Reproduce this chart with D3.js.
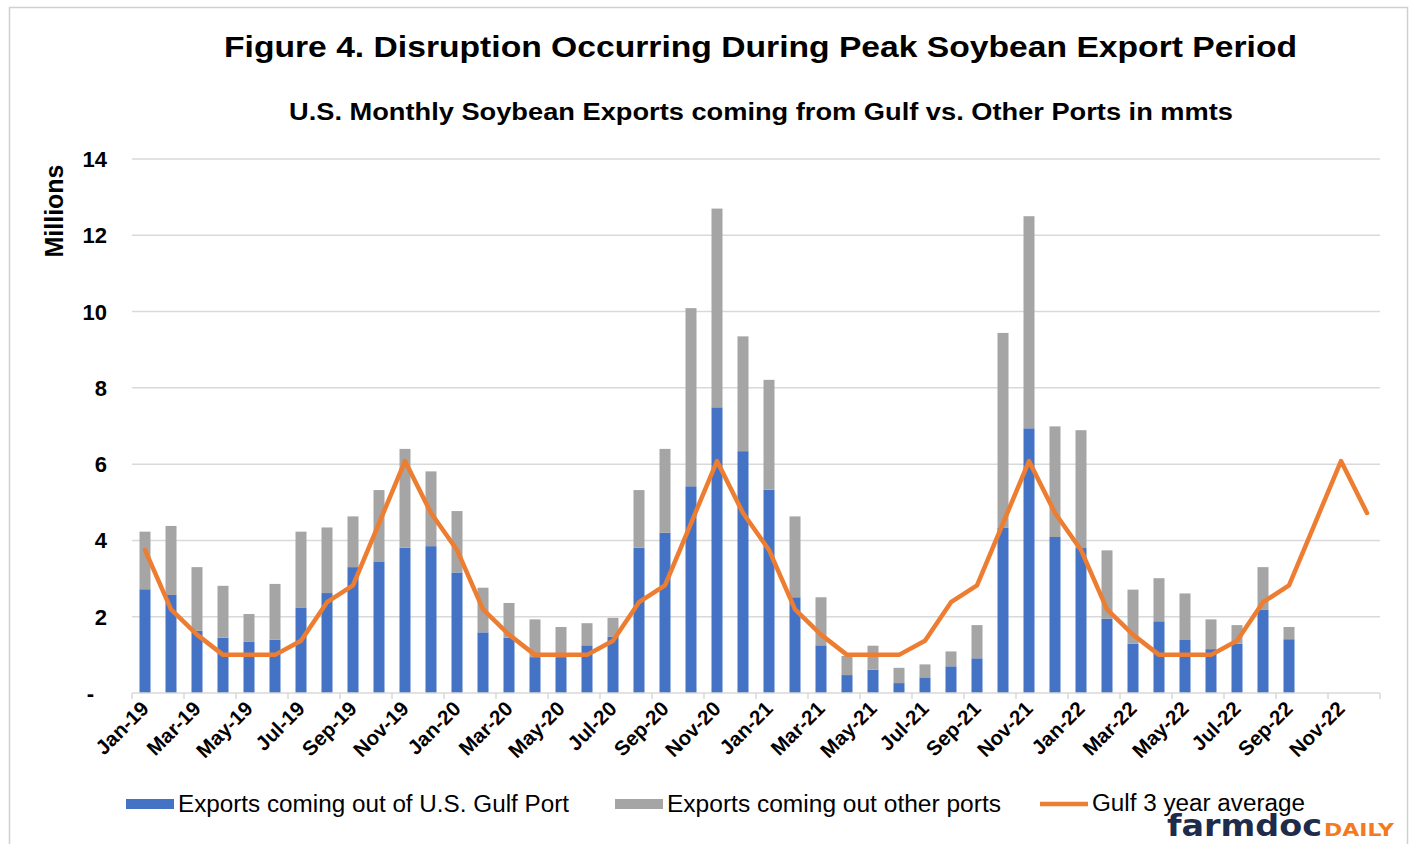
<!DOCTYPE html>
<html>
<head>
<meta charset="utf-8">
<script src="https://cdn.jsdelivr.net/npm/d3@7"></script>
<style>
  html, body { margin: 0; padding: 0; background: #ffffff; }
  svg { display: block; }
  text { font-family: "Liberation Sans", Arial, sans-serif; }
</style>
</head>
<body>
<svg id="chart" width="1416" height="844"></svg>
<script>
// Monthly categories, Jan-2019 through Dec-2022
const months = [
  "Jan-19","Feb-19","Mar-19","Apr-19","May-19","Jun-19","Jul-19","Aug-19","Sep-19","Oct-19","Nov-19","Dec-19",
  "Jan-20","Feb-20","Mar-20","Apr-20","May-20","Jun-20","Jul-20","Aug-20","Sep-20","Oct-20","Nov-20","Dec-20",
  "Jan-21","Feb-21","Mar-21","Apr-21","May-21","Jun-21","Jul-21","Aug-21","Sep-21","Oct-21","Nov-21","Dec-21",
  "Jan-22","Feb-22","Mar-22","Apr-22","May-22","Jun-22","Jul-22","Aug-22","Sep-22","Oct-22","Nov-22","Dec-22"
];

// Exports from U.S. Gulf ports (millions of metric tons)
const gulfExports = [
  2.72, 2.57, 1.63, 1.45, 1.34, 1.40, 2.23, 2.62, 3.30, 3.45, 3.81, 3.85,
  3.16, 1.59, 1.45, 0.94, 0.94, 1.25, 1.48, 3.81, 4.20, 5.42, 7.49, 6.34,
  5.33, 2.51, 1.25, 0.47, 0.61, 0.26, 0.41, 0.70, 0.91, 4.34, 6.94, 4.09,
  3.80, 1.95, 1.29, 1.88, 1.39, 1.15, 1.29, 2.19, 1.41, null, null, null
];

// Exports from all other ports (stacked on top of Gulf)
const otherExports = [
  1.51, 1.81, 1.67, 1.36, 0.73, 1.46, 2.00, 1.72, 1.33, 1.87, 2.59, 1.96,
  1.61, 1.17, 0.91, 0.99, 0.79, 0.58, 0.49, 1.51, 2.20, 4.67, 5.21, 3.01,
  2.88, 2.12, 1.26, 0.50, 0.63, 0.40, 0.34, 0.39, 0.87, 5.10, 5.56, 2.90,
  3.09, 1.79, 1.42, 1.13, 1.22, 0.78, 0.49, 1.11, 0.32, null, null, null
];

// Gulf 3-year monthly average
const gulfAverage = [
  3.75, 2.19, 1.53, 1.00, 1.00, 1.00, 1.37, 2.38, 2.82, 4.45, 6.08, 4.72,
  3.75, 2.19, 1.53, 1.00, 1.00, 1.00, 1.37, 2.38, 2.82, 4.45, 6.08, 4.72,
  3.75, 2.19, 1.53, 1.00, 1.00, 1.00, 1.37, 2.38, 2.82, 4.45, 6.08, 4.72,
  3.75, 2.19, 1.53, 1.00, 1.00, 1.00, 1.37, 2.38, 2.82, 4.45, 6.08, 4.72
];

const yTicks = [0, 2, 4, 6, 8, 10, 12, 14];
const yTickLabels = ["-", "2", "4", "6", "8", "10", "12", "14"];

const titleText = "Figure 4. Disruption Occurring During Peak Soybean Export Period";
const subtitleText = "U.S. Monthly Soybean Exports coming from Gulf vs. Other Ports in mmts";
const yAxisTitle = "Millions";
const seriesNames = ["Exports coming out of U.S. Gulf Port", "Exports coming out other ports", "Gulf 3 year average"];

const COLORS = { gulf: "#4472C4", other: "#A5A5A5", avg: "#ED7D31", grid: "#D9D9D9", text: "#000000" };

const svg = d3.select("#chart");

// outer chart frame
svg.append("rect")
  .attr("x", 9.5).attr("y", 7.5)
  .attr("width", 1398).attr("height", 860)
  .attr("fill", "#ffffff")
  .attr("stroke", "#D0D0D0").attr("stroke-width", 1.5);

const plot = { left: 132, right: 1380, top: 159, bottom: 693 };

const x = d3.scaleBand()
  .domain(d3.range(months.length))
  .range([plot.left, plot.right])
  .padding(0);

const y = d3.scaleLinear().domain([0, 14]).range([plot.bottom, plot.top]);

// titles
svg.append("text")
  .attr("x", 224).attr("y", 57)
  .attr("textLength", 1073).attr("lengthAdjust", "spacingAndGlyphs")
  .style("font-size", "30px").style("font-weight", "bold")
  .text(titleText);

svg.append("text")
  .attr("x", 289).attr("y", 120)
  .attr("textLength", 944).attr("lengthAdjust", "spacingAndGlyphs")
  .style("font-size", "23px").style("font-weight", "bold")
  .text(subtitleText);

// horizontal gridlines
svg.append("g").selectAll("line")
  .data(yTicks.filter(d => d > 0))
  .join("line")
  .attr("x1", plot.left).attr("x2", plot.right)
  .attr("y1", d => y(d)).attr("y2", d => y(d))
  .attr("stroke", COLORS.grid).attr("stroke-width", 1.5);

// y tick labels
svg.append("g").selectAll("text")
  .data(yTicks)
  .join("text")
  .attr("x", d => d === 0 ? 94 : 107)
  .attr("y", d => y(d) + 8)
  .attr("text-anchor", "end")
  .style("font-size", "22px").style("font-weight", "bold")
  .text((d, i) => yTickLabels[i]);

// y axis title
svg.append("text")
  .attr("transform", "translate(63,211) rotate(-90)")
  .attr("text-anchor", "middle")
  .style("font-size", "25px").style("font-weight", "bold")
  .text(yAxisTitle);

// stacked bars
const barW = 11;
const bars = svg.append("g");
months.forEach((m, i) => {
  const g = gulfExports[i], o = otherExports[i];
  if (g == null) return;
  const cx = x(i) + x.bandwidth() / 2;
  bars.append("rect")
    .attr("x", cx - barW / 2).attr("width", barW)
    .attr("y", y(g)).attr("height", y(0) - y(g))
    .attr("fill", COLORS.gulf);
  bars.append("rect")
    .attr("x", cx - barW / 2).attr("width", barW)
    .attr("y", y(g + o)).attr("height", y(g) - y(g + o))
    .attr("fill", COLORS.other);
});

// x axis line and tick marks (every second category boundary)
svg.append("line")
  .attr("x1", plot.left).attr("x2", plot.right)
  .attr("y1", y(0)).attr("y2", y(0))
  .attr("stroke", COLORS.grid).attr("stroke-width", 1.5);

const tickIdx = d3.range(0, months.length + 1, 2);
svg.append("g").selectAll("line")
  .data(tickIdx)
  .join("line")
  .attr("x1", d => d < months.length ? x(d) : plot.right)
  .attr("x2", d => d < months.length ? x(d) : plot.right)
  .attr("y1", y(0)).attr("y2", y(0) + 6)
  .attr("stroke", COLORS.grid).attr("stroke-width", 1.5);

// rotated month labels
svg.append("g").selectAll("text")
  .data(d3.range(0, months.length, 2))
  .join("text")
  .attr("transform", d => `translate(${x(d) + x.bandwidth() / 2 + 5},${y(0) + 17}) rotate(-45)`)
  .attr("text-anchor", "end")
  .style("font-size", "20.5px").style("font-weight", "bold")
  .text(d => months[d]);

// 3-year average line
const line = d3.line()
  .x((d, i) => x(i) + x.bandwidth() / 2)
  .y(d => y(d));
svg.append("path")
  .datum(gulfAverage)
  .attr("d", line)
  .attr("fill", "none")
  .attr("stroke", COLORS.avg)
  .attr("stroke-width", 4.5)
  .attr("stroke-linejoin", "round")
  .attr("stroke-linecap", "round");

// legend
const legend = svg.append("g");
legend.append("rect").attr("x", 126).attr("y", 799).attr("width", 48).attr("height", 10).attr("fill", COLORS.gulf);
legend.append("text").attr("x", 178).attr("y", 812)
  .attr("textLength", 391).attr("lengthAdjust", "spacingAndGlyphs")
  .style("font-size", "23px").text(seriesNames[0]);

legend.append("rect").attr("x", 615).attr("y", 799).attr("width", 48).attr("height", 10).attr("fill", COLORS.other);
legend.append("text").attr("x", 667).attr("y", 812)
  .attr("textLength", 334).attr("lengthAdjust", "spacingAndGlyphs")
  .style("font-size", "23px").text(seriesNames[1]);

legend.append("line").attr("x1", 1040).attr("x2", 1088).attr("y1", 804).attr("y2", 804)
  .attr("stroke", COLORS.avg).attr("stroke-width", 4.5);
legend.append("text").attr("x", 1092).attr("y", 811)
  .attr("textLength", 213).attr("lengthAdjust", "spacingAndGlyphs")
  .style("font-size", "23px").text(seriesNames[2]);

// farmdoc daily wordmark
const logo = svg.append("g");
logo.append("text").attr("x", 1167).attr("y", 836)
  .attr("textLength", 155).attr("lengthAdjust", "spacingAndGlyphs")
  .style("font-family", "'DejaVu Sans', sans-serif")
  .style("font-size", "30px").style("font-weight", "bold")
  .attr("fill", "#1E2B4B").text("farmdoc");
logo.append("text").attr("x", 1324).attr("y", 836)
  .attr("textLength", 70).attr("lengthAdjust", "spacingAndGlyphs")
  .style("font-family", "'DejaVu Sans', sans-serif")
  .style("font-size", "18px").style("font-weight", "bold")
  .attr("fill", "#F47920").text("DAILY");
</script>
</body>
</html>
